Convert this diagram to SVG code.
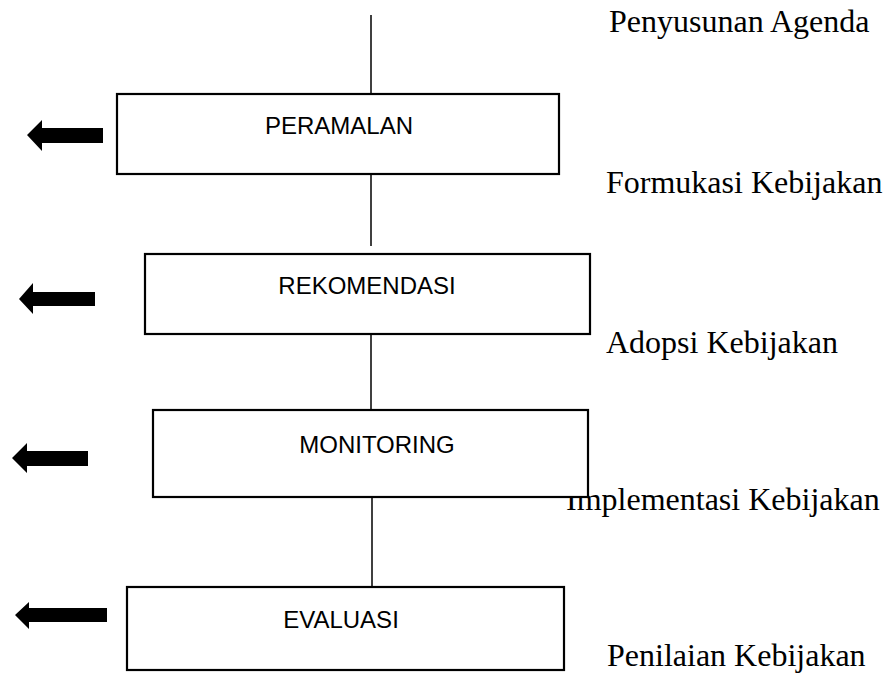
<svg xmlns="http://www.w3.org/2000/svg" width="886" height="675" viewBox="0 0 886 675">
<style>
.bg{fill:#fff}
.box{fill:#fff;stroke:#000;stroke-width:2.2}
.lbl{font-family:"Liberation Sans",Arial,sans-serif;font-size:24px;fill:#000;text-anchor:middle}
.stage{font-family:"Liberation Serif","Times New Roman",serif;font-size:32px;fill:#000}
.conn line{stroke:#000;stroke-width:1.5}
.arrow{fill:#000}
</style>
<rect class="bg" x="0" y="0" width="886" height="675"/>
<g id="stages">
<text class="stage" x="609" y="32">Penyusunan Agenda</text>
<text class="stage" x="606" y="193">Formukasi Kebijakan</text>
<text class="stage" x="606" y="353">Adopsi Kebijakan</text>
<text class="stage" x="566" y="510">Implementasi Kebijakan</text>
<text class="stage" x="607" y="666">Penilaian Kebijakan</text>
</g>
<g id="connectors" class="conn">
<line x1="371" y1="15" x2="371" y2="94"/>
<line x1="371" y1="174" x2="371" y2="246"/>
<line x1="371" y1="334" x2="371" y2="410"/>
<line x1="372" y1="497" x2="372" y2="586"/>
</g>
<g id="node-peramalan">
<rect class="box" x="117" y="94" width="442" height="80"/>
<text class="lbl" x="339" y="134">PERAMALAN</text>
</g>
<g id="node-rekomendasi">
<rect class="box" x="145" y="254" width="445" height="80"/>
<text class="lbl" x="367" y="294">REKOMENDASI</text>
</g>
<g id="node-monitoring">
<rect class="box" x="153" y="410" width="435" height="87"/>
<text class="lbl" x="377" y="453">MONITORING</text>
</g>
<g id="node-evaluasi">
<rect class="box" x="127" y="587" width="437" height="83"/>
<text class="lbl" x="341" y="628">EVALUASI</text>
</g>
<g id="arrows">
<polygon id="arrow-1" class="arrow" points="27,135 42,120 42,128 103,128 103,143 42,143 42,151"/>
<polygon id="arrow-2" class="arrow" points="19,299 33,283 33,292 95,292 95,306 33,306 33,314"/>
<polygon id="arrow-3" class="arrow" points="12,458 27,443 27,451 88,451 88,466 27,466 27,473"/>
<polygon id="arrow-4" class="arrow" points="15,615 29,602 29,608 107,608 107,622 29,622 29,629"/>
</g>
</svg>
